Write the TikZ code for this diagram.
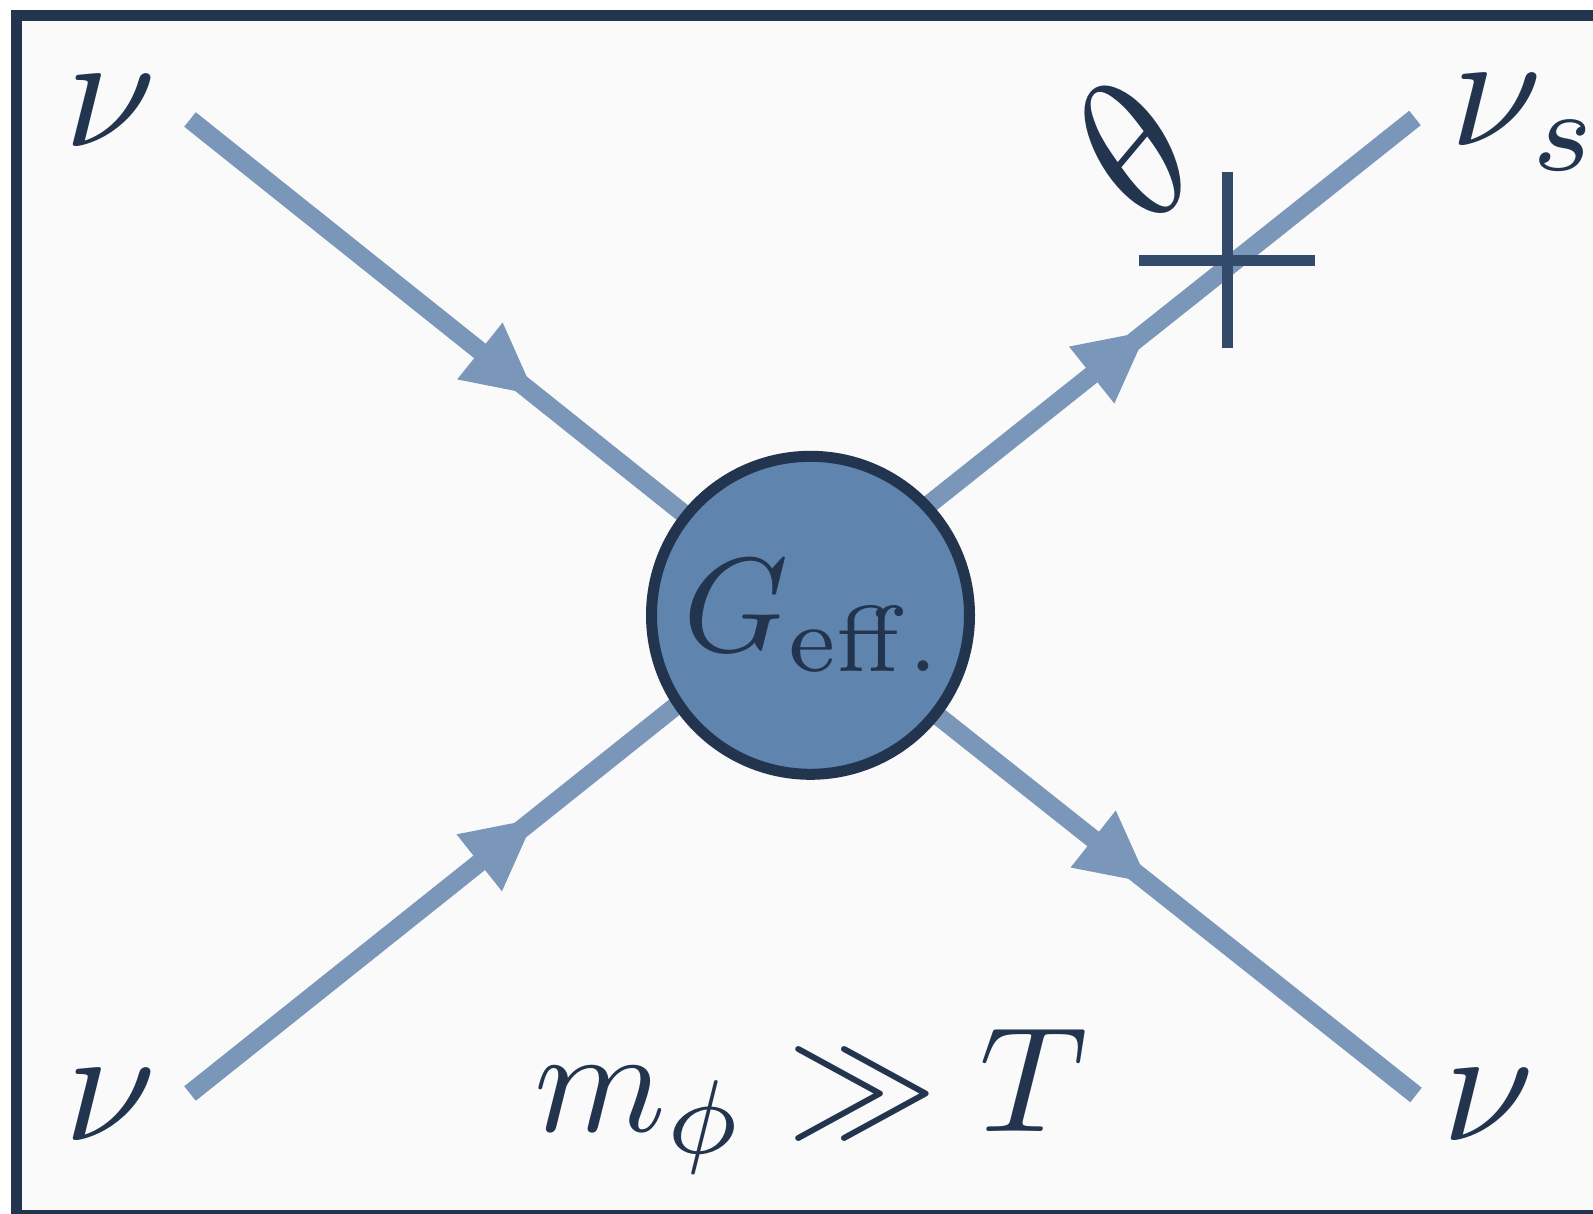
\documentclass[tikz,border=0pt]{standalone}
\usepackage{graphicx}
\usetikzlibrary{arrows.meta,decorations.markings}
\definecolor{ink}{HTML}{22344E}
\definecolor{crossc}{HTML}{334A6B}
\definecolor{fermion}{HTML}{7A96B9}
\definecolor{blob}{HTML}{5F84AD}
\definecolor{paper}{HTML}{FAFAFA}
\newcommand{\bigmath}[2][15]{\scalebox{#1}{$#2$}}
\tikzset{
  lab/.style={inner sep=0pt,outer sep=0pt,text=ink,anchor=base},
  fermionline/.style={draw=fermion,line width=18.5pt},
  headat/.style={postaction={decorate},decoration={markings,
     mark=at position #1pt with {\arrow[fermion]{Triangle[length=72pt,width=67pt]}}}},
  crossbar/.style={draw=crossc,line width=10.5pt},
}
\begin{document}
\begin{tikzpicture}[x=1pt,y=-1pt]
\useasboundingbox (0,0) rectangle (1593,1214);
\clip (0,0) rectangle (1593,1214);
\fill[paper] (11,10) rectangle (1593,1214);
\draw[ink,line width=11pt] (1620,15.7) -- (16.5,15.7) -- (16.5,1215.5) -- (1620,1215.5);
\coordinate (tl) at (190,119.5);
\coordinate (bl) at (190,1093.5);
\coordinate (tr) at (1415,118);
\coordinate (br) at (1416,1095);
\coordinate (xa) at (802.5,605);
\coordinate (xb) at (802.5,608.5);
\draw[fermionline,headat=443] (tl) -- (xb);
\draw[fermionline,headat=442] (bl) -- (xa);
\draw[fermionline,headat=441.5] (xa) -- (tr);
\draw[fermionline,headat=443] (xb) -- (br);
\node[circle,draw=ink,fill=blob,line width=11pt,minimum size=318pt,inner sep=0pt,text=ink] (geff) at (810.5,615.3) {\raisebox{-2pt}{\hspace{8pt}\bigmath[13.4]{G_{\rm eff.}}}};
\coordinate (cc) at (1227.3,260.3);
\draw[crossbar] ([yshift=88pt]cc) -- ([yshift=-88pt]cc);
\draw[crossbar] ([xshift=-88pt]cc) -- ([xshift=88pt]cc);
\node[lab] (nutl) at (110.5,147) {\bigmath[16.5]{\nu}};
\node[lab] (nubl) at (110.5,1140) {\bigmath[16.5]{\nu}};
\node[lab] (nubr) at (1488,1140) {\bigmath[16.5]{\nu}};
\node[lab,anchor=base west] (nus) at (1450,146) {\bigmath[16.5]{\nu_s}};
\node[inner sep=0pt,text=ink,rotate=50] (theta) at (1133,150) {\bigmath[19.3]{\theta}};
\node[lab] (rel) at (811,1131) {\bigmath{m_\phi\gg T}};
\end{tikzpicture}
\end{document}
